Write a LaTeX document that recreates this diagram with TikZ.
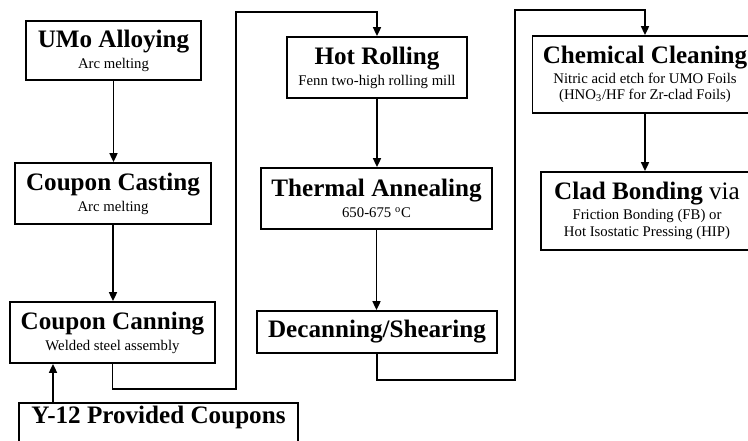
\documentclass[tikz,border=0pt]{standalone}
\usepackage{fontspec}
\setmainfont{Liberation Serif}
\usepackage{tikz}
\usetikzlibrary{arrows.meta, positioning}
\newcommand{\stagetitle}[1]{{\fontsize{14.3}{14.3}\selectfont\bfseries #1}}
\tikzset{
  stagebox/.style={rectangle, draw=black, line width=1.1pt,
    align=center, inner sep=0pt, font=\fontsize{8.4}{9.4}\selectfont},
  arrow/.style={-{Triangle[length=5pt,width=4.5pt]}, line width=1pt}
}

\begin{document}
\begin{tikzpicture}
  \clip (0,0) rectangle (14.96,8.8);

  % first column
  \node[stagebox, minimum width=3.5cm, minimum height=1.18cm] (alloy) at (2.27,7.79) {\stagetitle{UMo Alloying}\\[2.5pt] Arc melting};
  \node[stagebox, minimum width=3.92cm, minimum height=1.22cm] (casting) at (2.26,4.93) {\stagetitle{Coupon Casting}\\[2.5pt] Arc melting};
  \node[stagebox, minimum width=4.1cm, minimum height=1.22cm] (canning) at (2.25,2.15) {\stagetitle{Coupon Canning}\\[2.5pt] Welded steel assembly};
  \node[stagebox, minimum width=5.58cm, anchor=north, text height=0.42cm, text depth=0.58cm] (y12) at (3.17,0.76) {\stagetitle{Y-12 Provided Coupons}};

  % second column
  \node[stagebox, minimum width=3.6cm, minimum height=1.22cm] (hot) at (7.54,7.45) {\stagetitle{Hot Rolling}\\[2.5pt] Fenn two-high rolling mill};
  \node[stagebox, minimum width=4.62cm, minimum height=1.22cm] (anneal) at (7.53,4.83) {\stagetitle{Thermal Annealing}\\[2.5pt] 650-675 \textsuperscript{o}C};
  \node[stagebox, minimum width=4.8cm, minimum height=0.84cm] (decan) at (7.54,2.16) {\stagetitle{Decanning/Shearing}};

  % third column
  \node[stagebox, minimum width=4.5cm, minimum height=1.54cm] (chem) at (12.9,7.31) {\stagetitle{Chemical Cleaning}\\[2pt] Nitric acid etch for UMO Foils\\ (HNO\textsubscript{3}/HF for Zr-clad Foils)};
  \node[stagebox, minimum width=4.24cm, minimum height=1.56cm] (clad) at (12.94,4.58) {\stagetitle{Clad Bonding}{\fontsize{14.3}{14.3}\selectfont\ via}\\[2pt] Friction Bonding (FB) or\\ Hot Isostatic Pressing (HIP)};

  \draw[arrow] (alloy.south) -- (alloy.south |- casting.north);
  \draw[arrow] (casting.south) -- (casting.south |- canning.north);
  \draw[arrow] ([xshift=-2.11cm]y12.north) -- ([xshift=-2.11cm]y12.north |- canning.south);
  \draw[arrow] (canning.south) -- ++(0,-0.5) -| (4.72,8.56) -| (hot.north);
  \draw[arrow] (hot.south) -- (hot.south |- anneal.north);
  \draw[arrow] (anneal.south) -- (anneal.south |- decan.north);
  \draw[arrow] (decan.south) -- ++(0,-0.52) -| (10.3,8.6) -| (chem.north);
  \draw[arrow] (chem.south) -- (chem.south |- clad.north);
\end{tikzpicture}
\end{document}
